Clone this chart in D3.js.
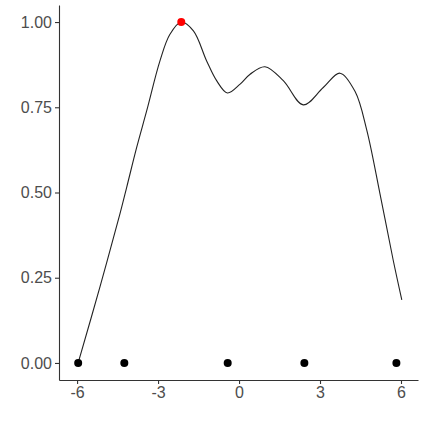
<!DOCTYPE html>
<html>
<head>
<meta charset="utf-8">
<script src="https://cdn.jsdelivr.net/npm/d3@7"></script>
<style>
	body { margin: 0; background: #fff; }
	.axis text { font-family: 'Liberation Sans', Arial, sans-serif; font-size: 16px; fill: #4d4d4d; }
	.axis path, .axis line { stroke: #333; stroke-width: 1.1; }
</style>
</head>
<body>
<svg id="chart" width="423" height="423"></svg>
<script>
// curve
var curveX = [-5.96, -5.15, -4.41, -4.16, -3.79, -3.42, -2.93, -2.56, -2.14, -1.69, -1.20, -0.83, -0.43,
	0.04, 0.41, 0.96, 1.64, 2.38, 3.12, 3.74, 4.30, 4.73, 5.22, 5.71, 6.03];
var curveY = [0, 0.224, 0.438, 0.516, 0.633, 0.740, 0.886, 0.964, 1.0, 0.974, 0.886, 0.828, 0.792,
	0.818, 0.847, 0.869, 0.828, 0.757, 0.808, 0.850, 0.796, 0.684, 0.497, 0.302, 0.185];

// observed points along the bottom
var pointX = [-5.96, -4.25, -0.42, 2.42, 5.83];
var pointY = [0, 0, 0, 0, 0];

// the maximum
var maxX = [-2.14];
var maxY = [1.0];

var xTicks = [-6, -3, 0, 3, 6];
var yTicks = [0, 0.25, 0.5, 0.75, 1.0];

var svg = d3.select('#chart'),
	margin = { top: 5, right: 5, bottom: 43, left: 59 },
	width = 423 - margin.left - margin.right,
	height = 423 - margin.top - margin.bottom;

var x = d3.scaleLinear().domain([-6.67, 6.63]).range([0, width]);
var y = d3.scaleLinear().domain([-0.05, 1.05]).range([height, 0]);

var g = svg.append('g').attr('transform', 'translate(' + margin.left + ',' + margin.top + ')');

g.append('g')
	.attr('class', 'x axis')
	.attr('transform', 'translate(0,' + height + ')')
	.call(d3.axisBottom(x).tickValues(xTicks).tickSizeInner(4).tickSizeOuter(0).tickPadding(3)
		.tickFormat(function(d) { return d < 0 ? '-' + Math.abs(d) : d; }));

g.append('g')
	.attr('class', 'y axis')
	.call(d3.axisLeft(y).tickValues(yTicks).tickSizeInner(4).tickSizeOuter(0).tickPadding(3)
		.tickFormat(d3.format('.2f')));

var line = d3.line()
	.x(function(d) { return x(d[0]); })
	.y(function(d) { return y(d[1]); })
	.curve(d3.curveCatmullRom.alpha(0.5));

g.append('path')
	.datum(d3.zip(curveX, curveY))
	.attr('d', line)
	.attr('fill', 'none')
	.attr('stroke', '#222')
	.attr('stroke-width', 1.1);

g.selectAll('.pt')
	.data(d3.zip(pointX, pointY))
	.enter()
	.append('circle')
	.attr('class', 'pt')
	.attr('cx', function(d) { return x(d[0]); })
	.attr('cy', function(d) { return y(d[1]); })
	.attr('r', 4)
	.attr('fill', '#000');

g.selectAll('.maxpt')
	.data(d3.zip(maxX, maxY))
	.enter()
	.append('circle')
	.attr('class', 'maxpt')
	.attr('cx', function(d) { return x(d[0]); })
	.attr('cy', function(d) { return y(d[1]); })
	.attr('r', 4)
	.attr('fill', '#ff0000');
</script>
</body>
</html>
